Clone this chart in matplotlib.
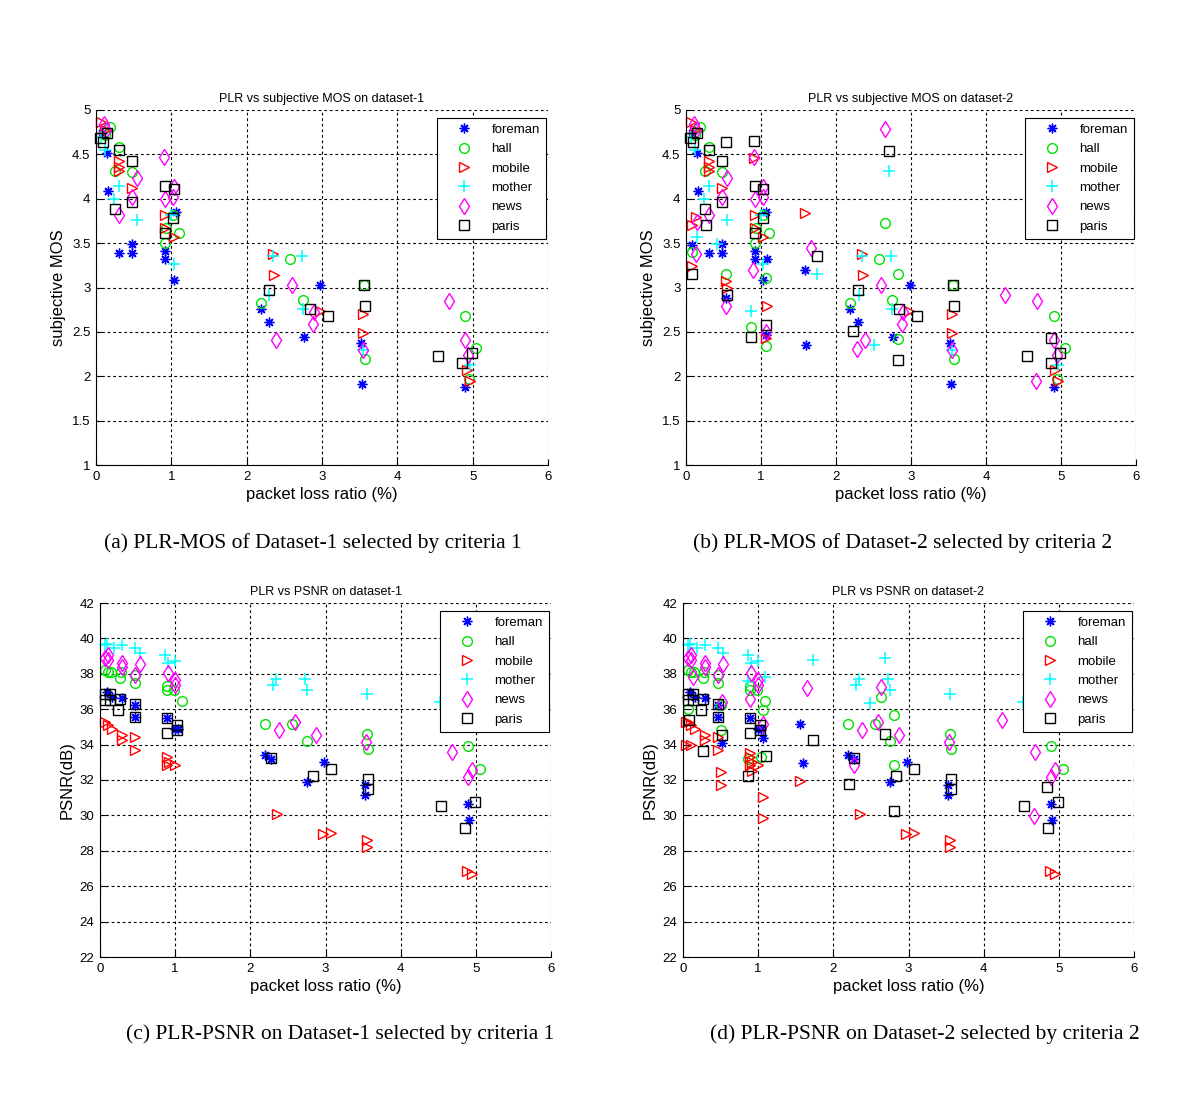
import matplotlib
matplotlib.use("Agg")
import matplotlib.pyplot as plt

SERIES = ["foreman", "hall", "mobile", "mother", "news", "paris"]

# ---------------- Panel (a): PLR vs MOS, dataset-1 ----------------
A_FOREMAN_X = [0.08, 0.14, 0.16, 0.31, 0.48, 0.48, 0.92, 0.92, 1.03, 1.06, 2.19, 2.29, 2.76, 2.98, 3.52, 3.53, 4.90]
A_FOREMAN_Y = [4.74, 4.51, 4.09, 3.39, 3.49, 3.39, 3.41, 3.32, 3.08, 3.85, 2.76, 2.61, 2.44, 3.03, 2.38, 1.91, 1.88]
A_HALL_X = [0.12, 0.19, 0.31, 0.25, 0.48, 0.92, 0.93, 1.10, 1.02, 2.19, 2.57, 2.75, 3.56, 3.57, 4.90, 5.05, 4.95]
A_HALL_Y = [4.72, 4.81, 4.58, 4.31, 4.30, 3.50, 3.67, 3.61, 3.82, 2.82, 3.32, 2.86, 3.03, 2.19, 2.68, 2.32, 1.97]
A_MOBILE_X = [0.07, 0.12, 0.31, 0.30, 0.31, 0.48, 0.92, 0.92, 1.03, 2.35, 2.36, 2.97, 3.54, 3.54, 4.92, 4.96]
A_MOBILE_Y = [4.86, 4.78, 4.42, 4.31, 4.36, 4.12, 3.82, 3.67, 3.57, 3.38, 3.14, 2.74, 2.70, 2.49, 2.07, 1.95]
A_MOTHER_X = [0.06, 0.12, 0.31, 0.24, 0.54, 1.03, 1.00, 2.35, 2.73, 2.30, 2.75, 3.55, 4.96]
A_MOTHER_Y = [4.70, 4.55, 4.14, 4.00, 3.76, 3.26, 3.82, 3.36, 3.36, 2.92, 2.76, 2.30, 2.13]
A_NEWS_X = [0.10, 0.13, 0.90, 0.31, 0.54, 0.92, 1.03, 1.02, 0.48, 2.60, 2.39, 2.88, 2.89, 3.54, 4.68, 4.90, 4.94]
A_NEWS_Y = [4.84, 4.78, 4.47, 3.82, 4.23, 4.00, 4.13, 4.02, 4.02, 3.03, 2.41, 2.59, 2.72, 2.30, 2.85, 2.41, 2.24]
A_PARIS_X = [0.05, 0.09, 0.14, 0.31, 0.48, 0.25, 0.48, 0.92, 1.03, 0.92, 1.02, 2.29, 2.84, 3.08, 3.56, 3.57, 4.54, 4.86, 4.99]
A_PARIS_Y = [4.68, 4.64, 4.74, 4.55, 4.43, 3.88, 3.96, 4.14, 4.11, 3.61, 3.78, 2.97, 2.76, 2.68, 3.03, 2.79, 2.23, 2.15, 2.26]

# ---------------- Panel (b): PLR vs MOS, dataset-2 (dataset-1 + extra) ----------------
B_FOREMAN_X = A_FOREMAN_X + [1.58, 1.60, 0.08, 1.08, 0.53, 1.07]
B_FOREMAN_Y = A_FOREMAN_Y + [3.20, 2.35, 3.48, 3.32, 2.88, 2.46]
B_HALL_X = A_HALL_X + [2.65, 2.82, 2.82, 0.08, 1.07, 0.53, 0.87, 1.07]
B_HALL_Y = A_HALL_Y + [3.73, 3.15, 2.42, 3.40, 3.11, 3.15, 2.55, 2.34]
B_MOBILE_X = A_MOBILE_X + [1.58, 0.90, 0.13, 0.08, 0.08, 0.53, 0.55, 1.08, 1.06]
B_MOBILE_Y = A_MOBILE_Y + [3.84, 4.46, 3.80, 3.70, 3.24, 3.07, 2.99, 2.79, 2.43]
B_MOTHER_X = A_MOTHER_X + [2.70, 1.74, 2.51, 0.15, 0.41, 0.87]
B_MOTHER_Y = A_MOTHER_Y + [4.31, 3.15, 2.35, 3.57, 3.49, 2.74]
B_NEWS_X = A_NEWS_X + [2.65, 1.66, 2.28, 4.25, 4.67, 0.14, 0.13, 0.89, 0.53, 1.07]
B_NEWS_Y = A_NEWS_Y + [4.79, 3.44, 2.31, 2.91, 1.95, 3.74, 3.38, 3.20, 2.79, 2.50]
B_PARIS_X = A_PARIS_X + [2.70, 1.74, 2.22, 2.82, 4.86, 0.53, 0.90, 0.26, 0.08, 0.55, 1.07, 0.87]
B_PARIS_Y = A_PARIS_Y + [4.54, 3.35, 2.51, 2.18, 2.43, 4.64, 4.65, 3.70, 3.15, 2.92, 2.58, 2.44]

# ---------------- Panel (c): PLR vs PSNR, dataset-1 ----------------
C_FOREMAN_X = [0.09, 0.16, 0.29, 0.47, 0.47, 0.89, 1.00, 1.04, 2.19, 2.28, 2.76, 2.98, 3.53, 3.53, 4.90, 4.91]
C_FOREMAN_Y = [37.0, 36.71, 36.62, 36.24, 35.58, 35.48, 34.86, 34.9, 33.39, 33.2, 31.88, 33.01, 31.69, 31.16, 30.65, 29.75]
C_HALL_X = [0.07, 0.10, 0.14, 0.27, 0.28, 0.47, 0.47, 0.89, 0.89, 0.99, 1.09, 2.19, 2.56, 2.75, 3.55, 3.57, 4.90, 5.05]
C_HALL_Y = [38.2, 38.1, 38.1, 37.75, 38.1, 37.47, 37.95, 37.3, 37.1, 37.07, 36.47, 35.18, 35.18, 34.2, 34.62, 33.73, 33.9, 32.6]
C_MOBILE_X = [0.07, 0.11, 0.16, 0.29, 0.29, 0.47, 0.47, 0.89, 0.89, 0.92, 1.00, 2.35, 2.97, 3.07, 3.55, 3.55, 4.88, 4.95]
C_MOBILE_Y = [35.28, 35.09, 34.9, 34.52, 34.24, 34.43, 33.67, 33.29, 32.82, 33.0, 32.82, 30.08, 28.95, 28.99, 28.63, 28.2, 26.87, 26.68]
C_MOTHER_X = [0.07, 0.09, 0.18, 0.29, 0.47, 0.53, 0.86, 0.90, 1.00, 2.34, 2.30, 2.73, 2.75, 3.55, 4.52]
C_MOTHER_Y = [39.62, 39.68, 39.43, 39.62, 39.43, 39.2, 39.09, 38.62, 38.73, 37.73, 37.35, 37.68, 37.11, 36.84, 36.41]
C_NEWS_X = [0.11, 0.11, 0.07, 0.29, 0.29, 0.53, 0.47, 0.90, 1.00, 1.00, 2.59, 2.38, 2.87, 3.54, 4.68, 4.95, 4.90]
C_NEWS_Y = [39.05, 38.77, 38.9, 38.62, 38.4, 38.58, 37.92, 38.05, 37.64, 37.35, 35.28, 34.84, 34.52, 34.14, 33.58, 32.54, 32.16]
C_PARIS_X = [0.07, 0.13, 0.07, 0.13, 0.27, 0.24, 0.47, 0.47, 0.89, 0.89, 1.02, 1.02, 2.28, 2.84, 3.07, 3.57, 3.57, 4.54, 4.86, 4.99]
C_PARIS_Y = [36.88, 36.88, 36.5, 36.5, 36.6, 35.98, 36.3, 35.58, 35.48, 34.67, 35.1, 34.8, 33.26, 32.2, 32.63, 32.07, 31.5, 30.52, 29.27, 30.78]

# ---------------- Panel (d): PLR vs PSNR, dataset-2 (dataset-1 + extra) ----------------
D_FOREMAN_X = C_FOREMAN_X + [1.56, 1.59, 0.52, 1.07]
D_FOREMAN_Y = C_FOREMAN_Y + [35.18, 32.95, 34.09, 34.39]
D_HALL_X = C_HALL_X + [2.64, 2.81, 2.81, 0.07, 0.51, 0.51, 1.07, 0.87, 1.04]
D_HALL_Y = C_HALL_Y + [36.69, 35.65, 32.82, 36.03, 36.22, 34.8, 35.98, 33.2, 33.29]
D_MOBILE_X = C_MOBILE_X + [1.56, 0.04, 0.11, 0.51, 0.51, 1.07, 1.07, 0.89, 0.92, 0.04]
D_MOBILE_Y = C_MOBILE_Y + [31.93, 33.95, 33.95, 32.45, 31.7, 31.03, 29.88, 33.5, 32.5, 35.3]
D_MOTHER_X = C_MOTHER_X + [1.73, 2.69, 2.49, 0.87, 1.09]
D_MOTHER_Y = C_MOTHER_Y + [38.77, 38.87, 36.35, 37.62, 37.83]
D_NEWS_X = C_NEWS_X + [1.65, 2.64, 2.27, 4.24, 4.67, 0.13, 0.89, 1.07, 0.52]
D_NEWS_Y = C_NEWS_Y + [37.17, 37.26, 32.82, 35.37, 29.99, 37.83, 36.6, 35.18, 36.41]
D_PARIS_X = C_PARIS_X + [2.69, 1.73, 2.21, 2.81, 4.84, 0.08, 0.26, 0.52, 1.10, 0.86]
D_PARIS_Y = C_PARIS_Y + [34.62, 34.24, 31.75, 30.24, 31.6, 35.41, 33.63, 34.52, 33.33, 32.25]

TITLES = ["PLR vs subjective MOS on dataset-1", "PLR vs subjective MOS on dataset-2",
          "PLR vs PSNR on dataset-1", "PLR vs PSNR on dataset-2"]
CAPTIONS = ["(a) PLR-MOS of Dataset-1 selected by criteria 1",
            "(b) PLR-MOS of Dataset-2 selected by criteria 2",
            "(c) PLR-PSNR on Dataset-1 selected by criteria 1",
            "(d) PLR-PSNR on Dataset-2 selected by criteria 2"]
XLABEL = "packet loss ratio (%)"
YLABELS = ["subjective MOS", "subjective MOS", "PSNR(dB)", "PSNR(dB)"]
X_TICKS = [0, 1, 2, 3, 4, 5, 6]
MOS_TICKS = [1, 1.5, 2, 2.5, 3, 3.5, 4, 4.5, 5]
MOS_TICKLABELS = ["1", "1.5", "2", "2.5", "3", "3.5", "4", "4.5", "5"]
PSNR_TICKS = [22, 24, 26, 28, 30, 32, 34, 36, 38, 40, 42]

STYLES = {
    "foreman": dict(marker=(8, 2, 0), color="#0000ff", ms=7, mew=1.0),
    "hall": dict(marker="o", color="#00e000", ms=7, mew=1.0),
    "mobile": dict(marker=">", color="#ff0000", ms=7, mew=1.0),
    "mother": dict(marker="+", color="#00ffff", ms=9, mew=1.1),
    "news": dict(marker="d", color="#ff00ff", ms=8, mew=1.0),
    "paris": dict(marker="s", color="#000000", ms=7, mew=1.0),
}

PANELS = [
    ([A_FOREMAN_X, A_HALL_X, A_MOBILE_X, A_MOTHER_X, A_NEWS_X, A_PARIS_X],
     [A_FOREMAN_Y, A_HALL_Y, A_MOBILE_Y, A_MOTHER_Y, A_NEWS_Y, A_PARIS_Y]),
    ([B_FOREMAN_X, B_HALL_X, B_MOBILE_X, B_MOTHER_X, B_NEWS_X, B_PARIS_X],
     [B_FOREMAN_Y, B_HALL_Y, B_MOBILE_Y, B_MOTHER_Y, B_NEWS_Y, B_PARIS_Y]),
    ([C_FOREMAN_X, C_HALL_X, C_MOBILE_X, C_MOTHER_X, C_NEWS_X, C_PARIS_X],
     [C_FOREMAN_Y, C_HALL_Y, C_MOBILE_Y, C_MOTHER_Y, C_NEWS_Y, C_PARIS_Y]),
    ([D_FOREMAN_X, D_HALL_X, D_MOBILE_X, D_MOTHER_X, D_NEWS_X, D_PARIS_X],
     [D_FOREMAN_Y, D_HALL_Y, D_MOBILE_Y, D_MOTHER_Y, D_NEWS_Y, D_PARIS_Y]),
]

W, H = 1200, 1100
# axes boxes in pixels: left, top, right, bottom
BOXES = [(96, 110, 548, 465), (686, 110, 1136, 465), (100, 603, 551, 957), (683, 603, 1134, 957)]
CAPTION_POS = [(313, 543), (903, 543), (340, 1034), (925, 1034)]

plt.rcParams["font.family"] = ["Liberation Sans", "DejaVu Sans"]
fig = plt.figure(figsize=(W / 100, H / 100), dpi=100)

for i, (xs, ys) in enumerate(PANELS):
    l, t, r, b = BOXES[i]
    ax = fig.add_axes([l / W, 1 - b / H, (r - l) / W, (b - t) / H])
    for name, x, y in zip(SERIES, xs, ys):
        st = STYLES[name]
        ax.plot(x, y, linestyle="none", marker=st["marker"], markersize=st["ms"],
                markerfacecolor="none", markeredgecolor=st["color"],
                markeredgewidth=st["mew"], label=name, clip_on=False)
    ax.set_xlim(0, 6)
    ax.set_xticks(X_TICKS)
    if i < 2:
        ax.set_ylim(1, 5)
        ax.set_yticks(MOS_TICKS)
        ax.set_yticklabels(MOS_TICKLABELS)
    else:
        ax.set_ylim(22, 42)
        ax.set_yticks(PSNR_TICKS)
    ax.grid(True, color="black", linestyle=(0, (2.5, 2.5)), linewidth=0.8)
    ax.set_axisbelow(True)
    for s in ["top", "right"]:
        ax.spines[s].set_visible(False)
    ax.spines["left"].set_linewidth(0.8)
    ax.spines["bottom"].set_linewidth(0.8)
    ax.tick_params(direction="in", length=4, width=0.8, labelsize=9.5, pad=4)
    ax.set_title(TITLES[i], fontsize=9, pad=6)
    ax.set_xlabel(XLABEL, fontsize=12, labelpad=3)
    ax.set_ylabel(YLABELS[i], fontsize=12, labelpad=4)
    leg = ax.legend(loc="upper right", bbox_to_anchor=(0.995, 0.978), fontsize=9.5,
                    frameon=True, fancybox=False, framealpha=1, edgecolor="black",
                    handlelength=3.2, handletextpad=0.5, borderpad=0.45,
                    labelspacing=0.54, numpoints=1, borderaxespad=0)
    leg.get_frame().set_linewidth(0.8)
    cx, cy = CAPTION_POS[i]
    fig.text(cx / W, 1 - cy / H, CAPTIONS[i], ha="center", va="center",
             fontsize=15.5, family=["Liberation Serif", "DejaVu Serif"])

fig.savefig("out.png", dpi=100)
